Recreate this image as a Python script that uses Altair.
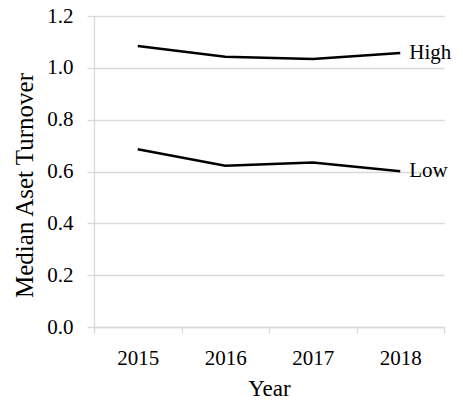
import altair as alt
import pandas as pd

years = ["2015", "2016", "2017", "2018"]
high = [1.084, 1.043, 1.034, 1.057]
low = [0.686, 0.622, 0.635, 0.601]

rows = []
for y, h, l in zip(years, high, low):
    rows.append({"Year": y, "value": h, "series": "High"})
    rows.append({"Year": y, "value": l, "series": "Low"})
df = pd.DataFrame(rows)
lab = df[df["Year"] == years[-1]]

FONT = "Liberation Serif, Times New Roman, serif"
GRID = "#d9d9d9"
common = dict(labelFont=FONT, titleFont=FONT, labelFontSize=21,
              labelColor="black", titleColor="black", titleFontWeight="normal",
              domainWidth=1.3, tickWidth=1.3, domainColor=GRID, tickColor=GRID)

x = alt.X("Year:O", sort=years,
          scale=alt.Scale(type="band", paddingInner=0, paddingOuter=0),
          axis=alt.Axis(title="Year", labelAngle=0, tickBand="extent", grid=False,
                        tickSize=6, labelPadding=14, titleFontSize=23,
                        titleY=68, titleBaseline="alphabetic", **common))
y = alt.Y("value:Q", scale=alt.Scale(domain=[0, 1.2], nice=False),
          axis=alt.Axis(title="Median Aset Turnover", values=[0, 0.2, 0.4, 0.6, 0.8, 1.0, 1.2],
                        format=".1f", gridColor=GRID, gridWidth=1.3,
                        tickSize=7, labelPadding=14, titleFontSize=25,
                        titleX=-70, titleY=169, titleAngle=270,
                        titleAlign="center", titleBaseline="middle", **common))

lines = alt.Chart(df).mark_line(color="black", strokeWidth=2.5).encode(
    x=x, y=y, detail="series:N")
texts = alt.Chart(lab).mark_text(align="left", baseline="middle", dx=9,
                                 font=FONT, fontSize=21, color="black").encode(
    x=x, y=y, text="series:N")

chart = (lines + texts).properties(
    width=350, height=311,
    autosize=alt.AutoSizeParams(type="none"),
    padding={"left": 86, "top": 8, "right": 11, "bottom": 69},
).configure_view(stroke=None)

chart.save("out.html", embed_options={"renderer": "svg", "actions": False})
